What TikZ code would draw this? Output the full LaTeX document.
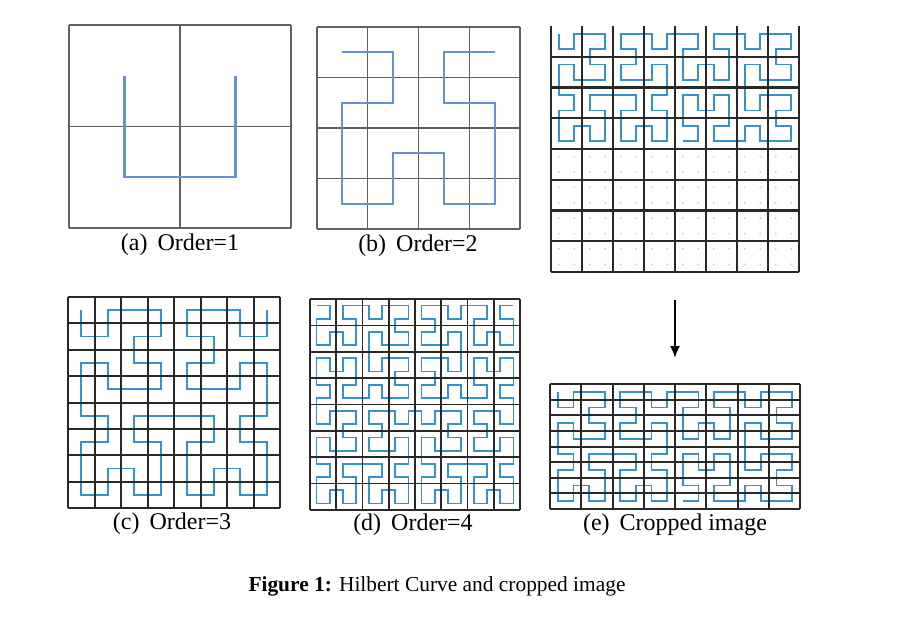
\documentclass[tikz,border=0pt]{standalone}
\usepackage{fontspec}
\setmainfont{Liberation Serif}
\usepackage{xcolor}
\usepackage{tikz}
\usetikzlibrary{positioning, arrows.meta}

\definecolor{hilblight}{RGB}{100,145,215}
\definecolor{hilbdark}{RGB}{55,145,202}
\definecolor{gridgray}{RGB}{40,40,40}

\tikzset{gridlight/.style={draw=black!62, line width=0.65pt}}
\tikzset{gridheavy/.style={draw=gridgray, line width=1pt}}
\tikzset{curvelight/.style={draw=hilblight, line width=1.1pt}}
\tikzset{curvedark/.style={draw=hilbdark, line width=0.85pt}}
\tikzset{cropdot/.style={fill=black!20}}
\tikzset{sublabel/.style={inner sep=0pt, font=\fontsize{12}{14}\selectfont}}
\tikzset{figcaption/.style={inner sep=0pt, font=\fontsize{10.7}{13}\selectfont}}
\tikzset{croparrow/.style={-{Latex[length=6pt, width=5pt]}, line width=1pt}}

% point d of the Hilbert curve on an n x n grid -> \hcx, \hcy
\newcount\hcx \newcount\hcy \newcount\hct \newcount\hcs
\newcount\hcrx \newcount\hcry \newcount\hctmp
\newcommand\hilbertpoint[2]{%
  \hcx=0 \hcy=0 \hct=#2\relax \hcs=1
  \loop\ifnum\hcs<#1
    \hctmp=\hct \divide\hctmp by 2
    \hcrx=\hctmp \divide\hcrx by 2 \multiply\hcrx by 2
    \hcrx=\numexpr\hctmp-\hcrx\relax
    \hcry=\hct \divide\hcry by 2 \multiply\hcry by 2
    \hcry=\numexpr\hct-\hcry\relax
    \ifnum\hcry=\hcrx \hcry=0 \else \hcry=1 \fi
    \ifnum\hcry=0
      \ifnum\hcrx=1
        \hcx=\numexpr\hcs-1-\hcx\relax
        \hcy=\numexpr\hcs-1-\hcy\relax
      \fi
      \hctmp=\hcx \hcx=\hcy \hcy=\hctmp
    \fi
    \advance\hcx by \numexpr\hcs*\hcrx\relax
    \advance\hcy by \numexpr\hcs*\hcry\relax
    \divide\hct by 4
    \multiply\hcs by 2
  \repeat}

% #1 style, #2 n, #3 last point, #4 transpose (0/1)
\newcommand\drawhilbert[4]{%
  \gdef\hpath{}%
  \foreach \hd in {0,...,#3}{%
    \hilbertpoint{#2}{\hd}%
    \ifnum#4=1 \hctmp=\hcx \hcx=\hcy \hcy=\hctmp\fi
    \xdef\hpath{\hpath (\the\hcx.5,\the\hcy.5)}%
  }%
  \edef\hcmd{\noexpand\draw[#1] plot coordinates {\hpath};}\hcmd}

\begin{document}
\begin{tikzpicture}[x=0.5pt, y=-0.5pt]
  \fill[white] (0,0) rectangle (912,627);

  % (a) order 1
  \begin{scope}[shift={(69,25)}, x=55.5pt, y=-50.75pt]
    \foreach \k in {0,...,2}
      \draw[gridlight] (\k,0) -- (\k,2) (0,\k) -- (2,\k);
    \drawhilbert{curvelight}{2}{3}{0}
  \end{scope}

  % (b) order 2
  \begin{scope}[shift={(317,27)}, x=25.375pt, y=-25.25pt]
    \foreach \k in {0,...,4}
      \draw[gridlight] (\k,0) -- (\k,4) (0,\k) -- (4,\k);
    \drawhilbert{curvelight}{4}{15}{0}
  \end{scope}

  % (c) order 3
  \begin{scope}[shift={(68,297)}, x=13.25pt, y=-13.19pt]
    \drawhilbert{curvedark}{8}{63}{0}
    \foreach \k in {0,...,8}
      \draw[gridheavy] (\k,0) -- (\k,8) (0,\k) -- (8,\k);
  \end{scope}

  % (d) order 4
  \begin{scope}[shift={(310,299)}, x=6.5625pt, y=-6.594pt]
    \drawhilbert{curvedark}{16}{255}{0}
    \foreach \k in {0,2,...,16}
      \draw[gridheavy, line width=0.85pt] (\k,0) -- (\k,16) (0,\k) -- (16,\k);
  \end{scope}

  % (e) upper half of the curve, lower half only sample points
  \begin{scope}[shift={(551,26)}, x=7.75pt, y=-7.6875pt]
    \drawhilbert{curvedark}{16}{127}{1}
    \foreach \i in {0,...,15}
      \foreach \j in {8,...,15}
        \fill[cropdot] (\i+0.5,\j+0.5) circle (0.5pt);
    \foreach \k in {0,2,...,16}
      \draw[gridheavy, line width=1.2pt] (\k,0) -- (\k,16);
    \foreach \k in {2,4,...,16}
      \draw[gridheavy, line width=1.2pt] (0,\k) -- (16,\k);
  \end{scope}

  % (e) cropped image
  \begin{scope}[shift={(550,384)}, x=7.8125pt, y=-7.8125pt]
    \drawhilbert{curvedark}{16}{127}{1}
    \foreach \k in {0,2,...,16}
      \draw[gridheavy] (\k,0) -- (\k,8);
    \foreach \k in {0,...,8}
      \draw[gridheavy] (0,\k) -- (16,\k);
  \end{scope}

  \coordinate (pa) at (180,228);
  \coordinate (pb) at (418,229);
  \coordinate (pc) at (172,508);
  \coordinate (pd) at (413,510);
  \coordinate (pe) at (675,509);
  \node[sublabel, below=2.5pt of pa] (la) {(a)\, Order=1};
  \node[sublabel, below=2.5pt of pb] (lb) {(b)\, Order=2};
  \node[sublabel, below=2pt of pc] (lc) {(c)\, Order=3};
  \node[sublabel, below=1.5pt of pd] (ld) {(d)\, Order=4};
  \node[sublabel, below=2pt of pe] (le) {(e)\, Cropped image};

  \coordinate (arrtop) at (675,300);
  \coordinate (arrtip) at (675,358);
  \draw[croparrow] (arrtop) -- (arrtip);

  \node[figcaption] (cap) at (437,586) {\textbf{Figure 1:} Hilbert Curve and cropped image};
\end{tikzpicture}
\end{document}
